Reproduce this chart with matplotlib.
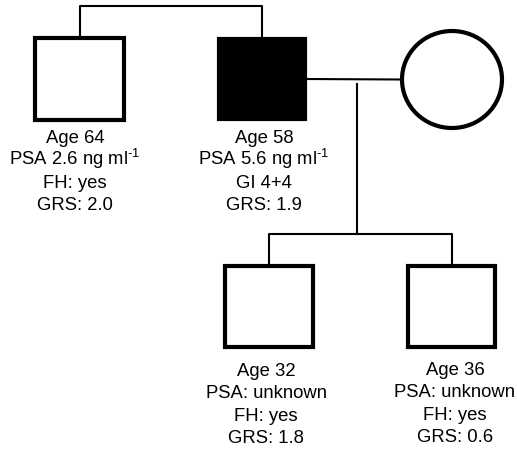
"""Pedigree: father affected, uncle, mother, two sons, with PSA/GRS notes."""
import matplotlib
matplotlib.use("Agg")
import matplotlib.pyplot as plt
from matplotlib.patches import Rectangle, Ellipse

plt.rcParams["font.family"] = ["Liberation Sans", "DejaVu Sans"]
plt.rcParams["mathtext.fontset"] = "custom"
plt.rcParams["mathtext.rm"] = "Liberation Sans"
plt.rcParams["mathtext.default"] = "regular"

# people in the pedigree
people = ["uncle", "father", "son1", "son2"]
ages = [64, 58, 32, 36]
psa = [r"PSA 2.6 ng ml$^{\text{-}1}$", r"PSA 5.6 ng ml$^{\text{-}1}$", "PSA: unknown", "PSA: unknown"]
third_line = ["FH: yes", "GI 4+4", "FH: yes", "FH: yes"]
grs = [2.0, 1.9, 1.8, 0.6]
affected = [False, True, False, False]

# layout in pixel units (x, y centre, width, height)
W, H = 517, 451
boxes = {
    "uncle": (79.5, 79, 89, 82),
    "father": (262, 79, 86, 80),
    "son1": (269, 306.5, 88, 81),
    "son2": (451.5, 306.5, 87, 81),
}
mother = (452, 79.5, 100, 97)
label_x = {"uncle": 75, "father": 264, "son1": 266, "son2": 455}
label_y0 = {"uncle": 143, "father": 143, "son1": 376, "son2": 375}
line_gap = 22.3
sib_y, top_y, drop_x = 234, 6, 357

fig = plt.figure(figsize=(W / 100, H / 100), dpi=100)
ax = fig.add_axes([0, 0, 1, 1])
ax.set_xlim(0, W)
ax.set_ylim(H, 0)
ax.axis("off")

LW_SHAPE, LW_LINE = 3.0, 1.5

# connecting lines
ux, uy, uw, uh = boxes["uncle"]
fx, fy, fw, fh = boxes["father"]
ax.plot([ux, ux, fx, fx], [uy - uh / 2, top_y, top_y, fy - fh / 2], color="black", lw=LW_LINE)
mx, my, mw, mh = mother
ax.plot([fx + fw / 2, mx - mw / 2], [fy, my], color="black", lw=LW_LINE)
ax.plot([drop_x, drop_x], [fy + 5, sib_y], color="black", lw=LW_LINE)
s1x, s1y, _, s1h = boxes["son1"]
s2x, s2y, _, s2h = boxes["son2"]
ax.plot([s1x, s1x, s2x, s2x], [s1y - s1h / 2, sib_y, sib_y, s2y - s2h / 2], color="black", lw=LW_LINE)

# symbols
for name, aff in zip(people, affected):
    cx, cy, w, h = boxes[name]
    ax.add_patch(Rectangle((cx - w / 2, cy - h / 2), w, h, facecolor="black" if aff else "white",
                           edgecolor="black", lw=LW_SHAPE, joinstyle="miter", zorder=3))
ax.add_patch(Ellipse((mx, my), mw, mh, facecolor="white", edgecolor="black", lw=LW_SHAPE, zorder=3))

# annotations
for i, name in enumerate(people):
    lines = [f"Age {ages[i]}", psa[i], third_line[i], f"GRS: {grs[i]:.1f}"]
    for k, txt in enumerate(lines):
        ax.text(label_x[name], label_y0[name] + k * line_gap, txt, ha="center", va="baseline",
                fontsize=13.3, color="black")

fig.savefig("out.png", dpi=100)
